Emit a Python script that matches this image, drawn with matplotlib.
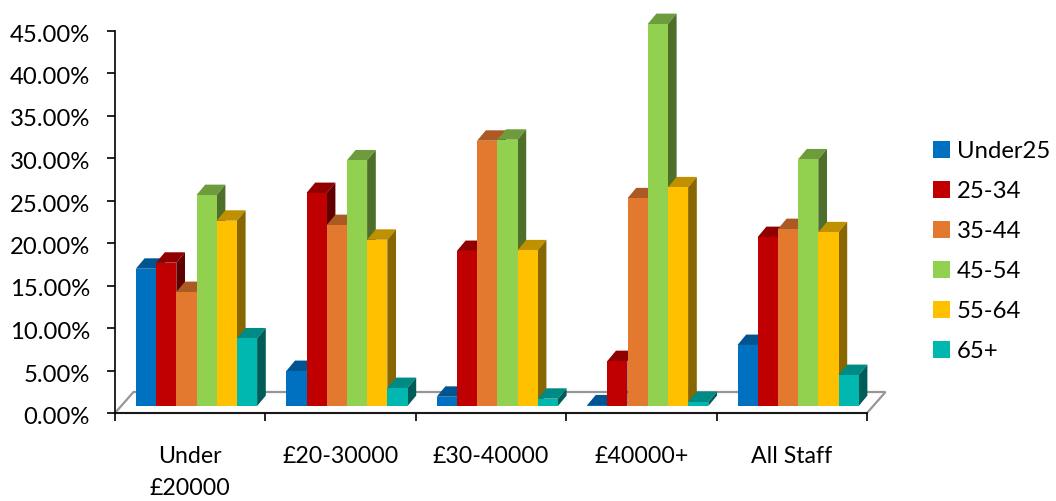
import matplotlib.pyplot as plt
from matplotlib.patches import Patch, Polygon
from matplotlib.transforms import ScaledTranslation

plt.rcParams['font.family'] = ['Lato', 'DejaVu Sans']

categories = ["Under\n£20000", "£20-30000", "£30-40000", "£40000+", "All Staff"]
age_bands = ["Under25", "25-34", "35-44", "45-54", "55-64", "65+"]

under25 = [16.15, 4.12, 1.09, 0.08, 7.18]
age_25_34 = [16.86, 25.06, 18.24, 5.29, 19.88]
age_35_44 = [13.41, 21.29, 31.21, 24.44, 20.82]
age_45_54 = [24.82, 28.9, 31.33, 44.94, 29.02]
age_55_64 = [21.8, 19.56, 18.32, 25.73, 20.44]
age_65_plus = [7.96, 2.12, 0.86, 0.47, 3.65]
series = [under25, age_25_34, age_35_44, age_45_54, age_55_64, age_65_plus]

front_colors = ["#0070C0", "#C00000", "#E2792E", "#92D050", "#FFC000", "#00B8B0"]
top_colors = ["#005490", "#900000", "#AA5A22", "#6E9C3C", "#BF9000", "#008A84"]
side_colors = ["#003860", "#600000", "#713C17", "#4E6F2A", "#886600", "#005C58"]

y_ticks = [0, 5, 10, 15, 20, 25, 30, 35, 40, 45]

W, H = 1056, 501
fig = plt.figure(figsize=(W / 100, H / 100), dpi=100)
ax = fig.add_axes([115 / W, (H - 413) / H, 752 / W, 382.5 / H])
ax.set_xlim(0, 5)
ax.set_ylim(0, 45)

# pixel sizes converted to data units
px_x = 5 / 752
px_y = 45 / 382.5

# floor of the 3D box
floor_dx = 18.5 * px_x
floor_dy = 21 * px_y
ax.add_patch(Polygon([(0, 0), (5, 0), (5 + floor_dx, floor_dy), (floor_dx, floor_dy)],
                     closed=True, facecolor="white", edgecolor="#969696", linewidth=1.6,
                     clip_on=False, zorder=1))

# 3D columns: front face with a bar, then top and side polygons behind it
bar_w = 20.2 * px_x
start = 20.9 * px_x
base = 7 * px_y
depth_x = 8.7 * px_x
depth_y = 10.4 * px_y

for i, values in enumerate(series):
    z = 3 + i
    xs = [g + start + i * bar_w for g in range(len(categories))]
    for x, v in zip(xs, values):
        y = base + v
        ax.add_patch(Polygon([(x, y), (x + bar_w, y), (x + bar_w + depth_x, y + depth_y), (x + depth_x, y + depth_y)],
                             closed=True, facecolor=top_colors[i], edgecolor="none", clip_on=False, zorder=z))
        ax.add_patch(Polygon([(x + bar_w, base), (x + bar_w + depth_x, base + depth_y),
                              (x + bar_w + depth_x, y + depth_y), (x + bar_w, y)],
                             closed=True, facecolor=side_colors[i], edgecolor="none", clip_on=False, zorder=z))
    ax.bar(xs, values, width=bar_w, bottom=base, align="edge", color=front_colors[i],
           linewidth=0, zorder=z + 0.5, clip_on=False)

for s in ["top", "right"]:
    ax.spines[s].set_visible(False)
for s in ["left", "bottom"]:
    ax.spines[s].set_linewidth(1.2)
    ax.spines[s].set_zorder(2)

ax.set_yticks(y_ticks)
ax.set_yticklabels([f"{t:.2f}%" for t in y_ticks])
ax.set_xticks(range(6))
ax.set_xticklabels([])
ax.set_xticks([g + 0.5 for g in range(5)], minor=True)
ax.set_xticklabels(categories, minor=True, linespacing=1.6)
ax.tick_params(axis="both", which="major", length=6, width=1.2, labelsize=17.2, colors="black")
ax.tick_params(axis="y", pad=12)
ax.tick_params(axis="x", which="minor", length=0, pad=24, labelsize=16.7)

# nudge the percent labels a little below their ticks
nudge = ScaledTranslation(0, -2.5 / 100, fig.dpi_scale_trans)
for label in ax.get_yticklabels():
    label.set_transform(label.get_transform() + nudge)

handles = [Patch(facecolor=c, edgecolor="none") for c in front_colors]
fig.legend(handles, age_bands, loc="upper left", bbox_to_anchor=(923 / W, 1 - 131 / H),
           frameon=False, fontsize=17.2, handlelength=0.72, handleheight=0.72,
           handletextpad=0.3, labelspacing=0.8, borderaxespad=0, borderpad=0.4)

plt.savefig("out.png", dpi=100)
